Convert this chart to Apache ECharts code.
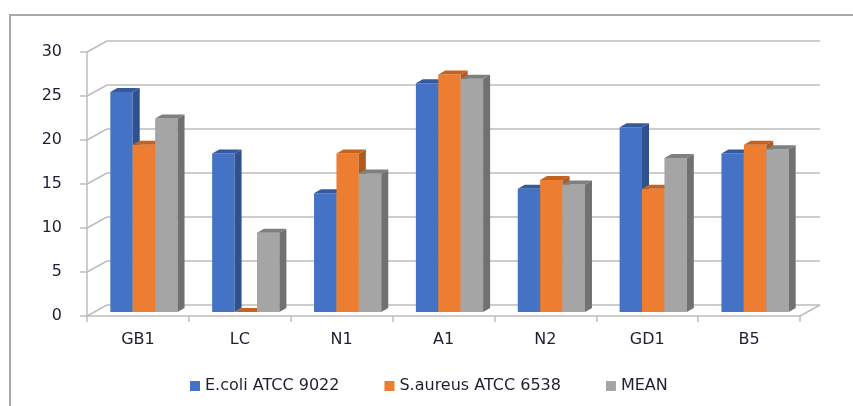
<!DOCTYPE html>
<html>
<head>
<meta charset="utf-8">
<script src="https://cdn.jsdelivr.net/npm/echarts@6/dist/echarts.min.js"></script>
<style>
  html, body { margin: 0; padding: 0; background: #fff; }
  #chart { width: 853px; height: 406px; }
</style>
</head>
<body>
<div id="chart"></div>
<script>
// data
const categories = ['GB1', 'LC', 'N1', 'A1', 'N2', 'GD1', 'B5'];
const ecoli = [25, 18, 13.5, 26, 14, 21, 18];
const saureus = [19, 0, 18, 27, 15, 14, 19];
const mean = [22, 9, 15.75, 26.5, 14.5, 17.5, 18.5];
const yTicks = [0, 5, 10, 15, 20, 25, 30];

// fake 3d: back wall offset, bar depth
const WX = 20, WY = -11;
const DX = 6, DY = -4;
const SD = 7, ST = 4;
const textColor = '#1c2033';
const lineColor = '#bdbdbd';

function barRenderer(slot, front, side, top) {
  return function (params, api) {
    const i = api.value(0);
    const topPt = api.coord([i, api.value(1)]);
    const basePt = api.coord([i, 0]);
    const band = api.size([1, 0])[0];
    const bw = band * 0.22;
    const x = topPt[0] - 1.5 * bw + slot * bw + DX;
    const yT = topPt[1] + DY, yB = basePt[1] + DY;
    return {
      type: 'group',
      children: [
        { type: 'rect', shape: { x: x, y: yT, width: bw, height: yB - yT }, style: { fill: front } },
        { type: 'polygon', shape: { points: [[x + bw, yT], [x + bw + SD, yT - ST], [x + bw + SD, yB - ST], [x + bw, yB]] }, style: { fill: side } },
        { type: 'polygon', shape: { points: [[x, yT], [x + SD, yT - ST], [x + bw + SD, yT - ST], [x + bw, yT]] }, style: { fill: top } }
      ]
    };
  };
}

function makeBar(name, values, slot, front, side, top) {
  return {
    name: name,
    type: 'custom',
    xAxisIndex: 0,
    yAxisIndex: 0,
    itemStyle: { color: front },
    encode: { x: 0, y: 1 },
    data: values.map((v, i) => [i, v]),
    renderItem: barRenderer(slot, front, side, top),
    z: 5
  };
}

let myChart = echarts.init(document.getElementById('chart'));
myChart.setOption({
  animation: false,
  graphic: [
    { type: 'rect', shape: { x: 10, y: 15, width: 900, height: 500 }, style: { fill: null, stroke: '#a9a9a9', lineWidth: 2 } }
  ],
  legend: {
    top: 373,
    left: 185,
    icon: 'rect',
    itemWidth: 10,
    itemHeight: 10,
    itemGap: 45,
    textStyle: { color: textColor, fontSize: 16, fontFamily: 'DejaVu Sans' },
    data: ['E.coli ATCC 9022', 'S.aureus ATCC 6538', 'MEAN']
  },
  grid: [
    { left: 87, top: 52, width: 713, height: 264 },
    { left: 87 + WX, top: 52 + WY, width: 713, height: 264 }
  ],
  xAxis: [
    {
      gridIndex: 0,
      type: 'category',
      data: categories,
      axisLine: { lineStyle: { color: lineColor, width: 1.5 } },
      axisTick: { show: true, length: 6, lineStyle: { color: lineColor, width: 1.5 } },
      axisLabel: { color: textColor, fontSize: 16, fontFamily: 'DejaVu Sans', margin: 16 }
    },
    { gridIndex: 1, type: 'category', data: categories, show: false }
  ],
  yAxis: [
    {
      gridIndex: 0,
      type: 'value',
      min: 0,
      max: 30,
      interval: 5,
      axisLine: { show: true, lineStyle: { color: lineColor, width: 1.5 } },
      axisTick: { show: true, length: 7, lineStyle: { color: lineColor, width: 1.5 } },
      axisLabel: { color: textColor, fontSize: 16, fontFamily: 'DejaVu Sans', margin: 25 },
      splitLine: { show: false }
    },
    {
      gridIndex: 1,
      type: 'value',
      min: 0,
      max: 30,
      interval: 5,
      axisLine: { show: false },
      axisTick: { show: false },
      axisLabel: { show: false },
      splitLine: { show: true, lineStyle: { color: lineColor, width: 1.5 } }
    }
  ],
  series: [
    {
      // diagonals joining the front axis to the back wall
      type: 'custom',
      xAxisIndex: 0,
      yAxisIndex: 0,
      silent: true,
      z: 1,
      data: yTicks.map(v => [0, v]),
      renderItem: function (params, api) {
        const v = api.value(1);
        const y = api.coord([0, v])[1];
        const cs = params.coordSys;
        const style = { stroke: lineColor, lineWidth: 1.5 };
        const children = [
          { type: 'line', shape: { x1: cs.x, y1: y, x2: cs.x + WX, y2: y + WY }, style: style }
        ];
        if (v === 0) {
          children.push({ type: 'line', shape: { x1: cs.x + cs.width, y1: y, x2: cs.x + cs.width + WX, y2: y + WY }, style: style });
        }
        return { type: 'group', children: children };
      }
    },
    makeBar('E.coli ATCC 9022', ecoli, 0, '#4472c4', '#2f528f', '#35599c'),
    makeBar('S.aureus ATCC 6538', saureus, 1, '#ed7d31', '#ae5a21', '#c4621f'),
    makeBar('MEAN', mean, 2, '#a5a5a5', '#717171', '#7f7f7f')
  ]
});
</script>
</body>
</html>
